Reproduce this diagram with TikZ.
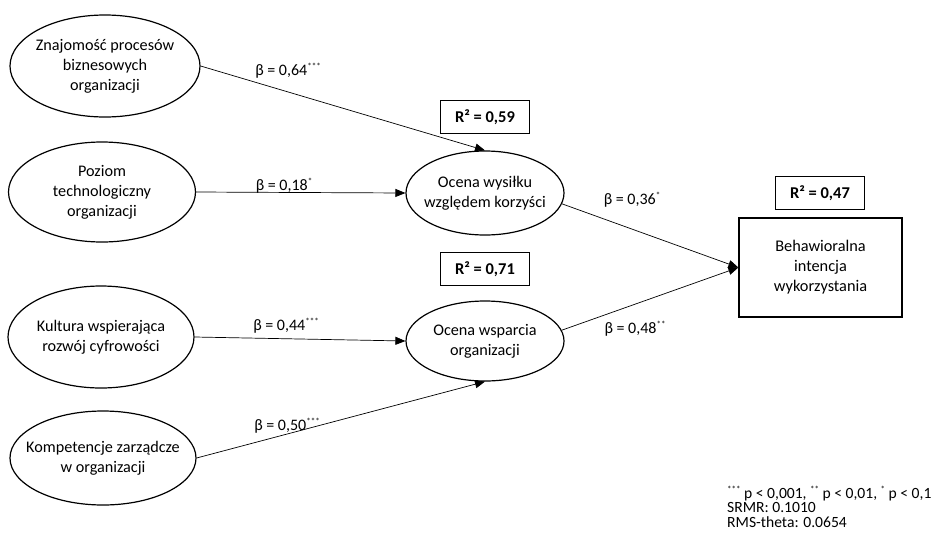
\documentclass[tikz,border=0pt]{standalone}
\usepackage{fontspec}
\setmainfont{Carlito}
\usetikzlibrary{shapes.geometric,arrows.meta}
\newcommand\sig[1]{\raisebox{0.75ex}{\fontsize{9}{9}\selectfont #1}}
\tikzset{
  latent/.style={ellipse,draw,line width=1.2pt,inner sep=0pt},
  intext/.style={align=center,font=\fontsize{16.2}{20}\selectfont,inner sep=0pt},
  outcome/.style={rectangle,draw,line width=1.3pt,inner sep=0pt,align=center,font=\fontsize{16.3}{20}\selectfont,minimum width=163pt,minimum height=99pt},
  rbox/.style={rectangle,draw,line width=1pt,inner sep=0pt,minimum width=89pt,minimum height=33pt,font=\fontsize{16.5}{18}\selectfont\bfseries},
  path/.style={line width=0.7pt,-{Triangle[length=10pt,width=8pt]}},
  beta/.style={font=\fontsize{16}{18}\selectfont,inner sep=1pt},
  legend/.style={font=\fontsize{15.6}{14.5}\selectfont,align=left,inner sep=0pt,anchor=north west}
}
\begin{document}
\begin{tikzpicture}[x=1pt,y=-1pt]
\useasboundingbox (0,0) rectangle (944,541);
% exogenous constructs
\node[latent,minimum width=190pt,minimum height=102pt,label={[intext]center:Znajomość procesów\\biznesowych\\organizacji}] (E1) at (105,66) {};
\node[latent,minimum width=187pt,minimum height=100pt,label={[intext]center:Poziom\\technologiczny\\organizacji}] (E2) at (102,192) {};
\node[latent,minimum width=186pt,minimum height=102pt,label={[intext]center:Kultura wspierająca\\rozwój cyfrowości}] (E3) at (101,337) {};
\node[latent,minimum width=186pt,minimum height=94pt,label={[intext]center:Kompetencje zarządcze\\w organizacji}] (E4) at (103,458) {};
% mediators
\node[latent,minimum width=158pt,minimum height=84pt,label={[intext]center:Ocena wysiłku\\względem korzyści}] (wys) at (485,193) {};
\node[latent,minimum width=158pt,minimum height=80pt,label={[intext]center:Ocena wsparcia\\organizacji}] (wsp) at (485,341) {};
% outcome
\node[outcome] (BI) at (820.5,267.5) {Behawioralna\\intencja\\wykorzystania};
% R2 boxes
\node[rbox] (r1) at (485,117) {R² = 0,59};
\node[rbox] (r2) at (485,269) {R² = 0,71};
\node[rbox] (r3) at (820,193) {R² = 0,47};
% paths
\draw[path] (E1.east) -- (wys.north);
\draw[path] (E2.east) -- (wys.west);
\draw[path] (E3.east) -- (wsp.west);
\draw[path] (E4.east) -- (wsp.south);
\draw[path] (wys.-8) -- (BI.west);
\draw[path] (wsp.8) -- (BI.west);
% coefficients
\node[beta] (b1) at (288,71) {β = 0,64\sig{***}};
\node[beta] (b2) at (284,186) {β = 0,18\sig{*}};
\node[beta] (b3) at (286,326) {β = 0,44\sig{***}};
\node[beta] (b4) at (287,426) {β = 0,50\sig{***}};
\node[beta] (b5) at (632,200) {β = 0,36\sig{*}};
\node[beta] (b6) at (635,329) {β = 0,48\sig{**}};
% legend
\node[legend] (leg) at (727,486) {\sig{***} p < 0,001, \sig{**} p < 0,01, \sig{*} p < 0,1\\SRMR: 0.1010\\RMS-theta: 0.0654};
\end{tikzpicture}
\end{document}
